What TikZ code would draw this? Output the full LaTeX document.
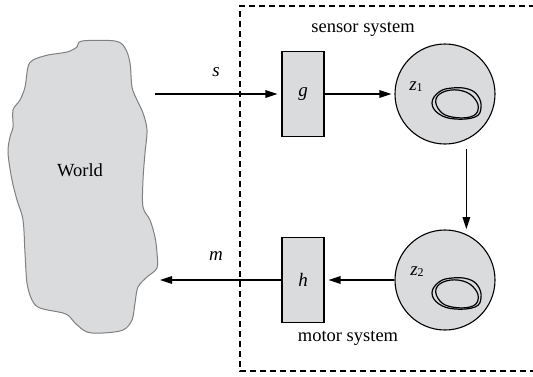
\documentclass[tikz,border=0pt]{standalone}
\usepackage{fontspec}
\setmainfont{Liberation Serif}
\usetikzlibrary{arrows.meta}
\definecolor{boxgray}{HTML}{DADBDD}
\definecolor{edgegray}{HTML}{808080}
\tikzset{
  blk/.style={draw=black, line width=1.1pt, fill=boxgray, minimum width=42pt, minimum height=85pt, inner sep=0pt, font=\fontsize{19}{21}\selectfont\itshape},
  disc/.style={draw=black, line width=1.1pt, fill=boxgray, circle, minimum size=100pt, inner sep=0pt},
  arr/.style={line width=1.4pt, -{Triangle[length=12pt,width=7.5pt]}},
  lbl/.style={font=\fontsize{18.5}{21}\selectfont},
  ilbl/.style={font=\fontsize{19}{21}\selectfont\itshape},
  loopline/.style={line width=1.2pt, draw=black},
  frame/.style={line width=1.2pt, dash pattern=on 6pt off 4pt},
}
\begin{document}
\begin{tikzpicture}[x=1pt,y=-1pt]
\useasboundingbox (0,0) rectangle (533,376);
% world blob
\draw[edgegray, line width=1pt, fill=boxgray] plot[smooth cycle, tension=0.55] coordinates {
(82,41) (115,41) (125,48) (130,63) (132,87) (137,100) (143,113) (147,130) (145,153)
(143,180) (143,207) (150,220) (155,237) (157,253) (157,268) (147,277) (138,287)
(135,303) (132,320) (123,330) (103,333) (87,332) (75,323) (70,317) (63,313) (40,308)
(32,300) (27,283) (25,253) (23,220) (17,200) (12,180) (8,153) (10,137) (13,127)
(13,110) (20,100) (25,87) (28,67) (33,60) (48,55) (67,52) (77,47)};
\node[lbl] (world) at (80,170) {World};
% dashed frame
\draw[frame] (535,6) -- (240,6) -- (240,371) -- (535,371);
\node[lbl] (sensor) at (363,29) {sensor system};
\node[lbl] (motor) at (348,338) {motor system};
% blocks
\node[blk] (g) at (303,94) {g};
\node[blk] (h) at (303,280) {h};
\node[disc] (z1) at (445,94) {};
\node[disc] (z2) at (445,280) {};
\node[ilbl, inner sep=0pt] (z1l) at (416,87) {z\raisebox{-1pt}{\upshape\fontsize{12}{12}\selectfont 1}};
\node[ilbl, inner sep=0pt] (z2l) at (417,272) {z\raisebox{-1pt}{\upshape\fontsize{12}{12}\selectfont 2}};
% inner loops
\foreach \dy in {0,190}{
\begin{scope}[yshift=-\dy pt]
\draw[loopline] plot[smooth cycle, tension=0.7] coordinates {(439,92) (452,88) (468,89) (478,96) (481,108) (475,117) (455,119) (439,114) (432,103)};
\draw[loopline] plot[smooth cycle, tension=0.7] coordinates {(436,99) (446,91) (463,91) (475,99) (478,110) (470,117) (452,117) (440,111)};
\end{scope}}
% connectors
\coordinate (sin) at (155,94);
\coordinate (mout) at (160,280);
\node[ilbl] (s) at (216,72) {s};
\node[ilbl] (m) at (216,256) {m};
\draw[arr, shorten >=4pt] (sin) -- (g.west |- sin);
\draw[arr, shorten >=3pt] (g.east) -- (z1.west);
\draw[arr, shorten <=9pt, shorten >=5pt] (z1.-65) -- (z2.65);
\draw[arr, shorten >=4pt] (z2.west) -- (h.east);
\draw[arr] (h.west |- mout) -- (mout);
\end{tikzpicture}
\end{document}
